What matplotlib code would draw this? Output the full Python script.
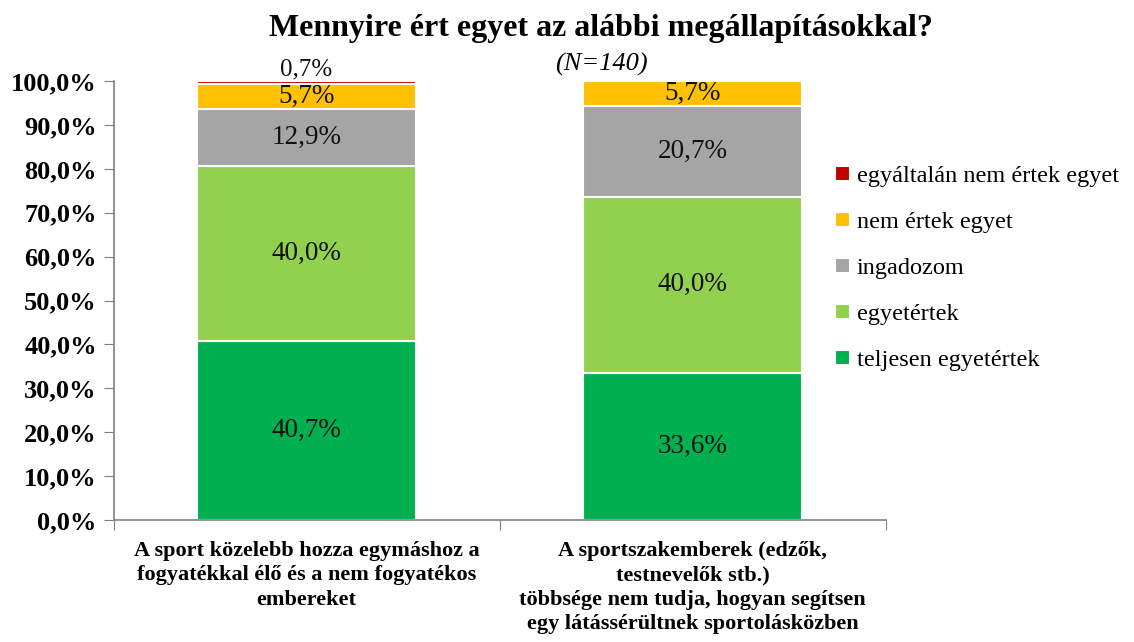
import matplotlib
matplotlib.use("Agg")
import matplotlib.pyplot as plt
import numpy as np

categories = [
    "A sport közelebb hozza egymáshoz a\nfogyatékkal élő és a nem fogyatékos\nembereket",
    "A sportszakemberek (edzők,\ntestnevelők stb.)\ntöbbsége nem tudja, hogyan segítsen\negy látássérültnek sportolásközben",
]
series_names = ["teljesen egyetértek", "egyetértek", "ingadozom", "nem értek egyet", "egyáltalán nem értek egyet"]
values = {
    "teljesen egyetértek": [40.7, 33.6],
    "egyetértek": [40.0, 40.0],
    "ingadozom": [12.9, 20.7],
    "nem értek egyet": [5.7, 5.7],
    "egyáltalán nem értek egyet": [0.7, 0.0],
}
colors = {
    "teljesen egyetértek": "#00B050",
    "egyetértek": "#92D050",
    "ingadozom": "#A5A5A5",
    "nem értek egyet": "#FFC000",
    "egyáltalán nem értek egyet": "#C00000",
}
yticks = [0, 10, 20, 30, 40, 50, 60, 70, 80, 90, 100]

plt.rcParams['font.family'] = ['Liberation Serif', 'DejaVu Serif']

fig = plt.figure(figsize=(11.34, 6.42), dpi=100)
ax = fig.add_axes([0.1001, 0.19, 0.6808, 0.6838])

x = np.arange(len(categories))
width = 0.567
bottom = np.zeros(len(categories))
handles = []
for name in series_names:
    v = np.array(values[name])
    b = ax.bar(x, v, width, bottom=bottom, color=colors[name], edgecolor="white", linewidth=1.5, label=name)
    handles.append(b)
    for i, val in enumerate(v):
        if val <= 0:
            continue
        txt = f"{val:.1f}%".replace(".", ",")
        if name == "egyáltalán nem értek egyet":
            ax.text(x[i], bottom[i] + val + 2.6, txt, ha="center", va="center", fontsize=18, color="#111111")
        else:
            ax.text(x[i], bottom[i] + val / 2, txt, ha="center", va="center", fontsize=19.5, color="#111111")
    bottom += v

ax.set_xlim(-0.5, 1.5)
ax.set_ylim(0, 100)
ax.set_yticks(yticks)
ax.set_yticklabels([f"{t:.1f}%".replace(".", ",") for t in yticks], fontsize=19, fontweight="bold")
ax.set_xticks([-0.5, 0.5, 1.5])
ax.set_xticklabels([])
ax.set_xticks(x, minor=True)
ax.set_xticklabels(categories, minor=True, fontsize=16, fontweight="bold", linespacing=1.3)
ax.tick_params(axis="x", which="minor", length=0, pad=15)
ax.tick_params(axis="x", which="major", length=7, color="#808080", direction="out")
ax.tick_params(axis="y", length=7, color="#808080", direction="out", pad=5)
for s in ["top", "right"]:
    ax.spines[s].set_visible(False)
for s in ["left", "bottom"]:
    ax.spines[s].set_color("#808080")
    ax.spines[s].set_linewidth(1.2)

fig.text(0.53, 0.955, "Mennyire ért egyet az alábbi megállapításokkal?", ha="center", va="center",
         fontsize=23, fontweight="bold")
fig.text(0.53, 0.900, "(N=140)", ha="center", va="center", fontsize=19, style="italic")

leg = fig.legend(handles=handles[::-1], labels=series_names[::-1], loc="upper left",
                 bbox_to_anchor=(0.717, 0.776), frameon=False, fontsize=17.5,
                 handlelength=0.6, handleheight=0.6, handletextpad=0.3, labelspacing=1.02)

fig.savefig("out.png", dpi=100)
